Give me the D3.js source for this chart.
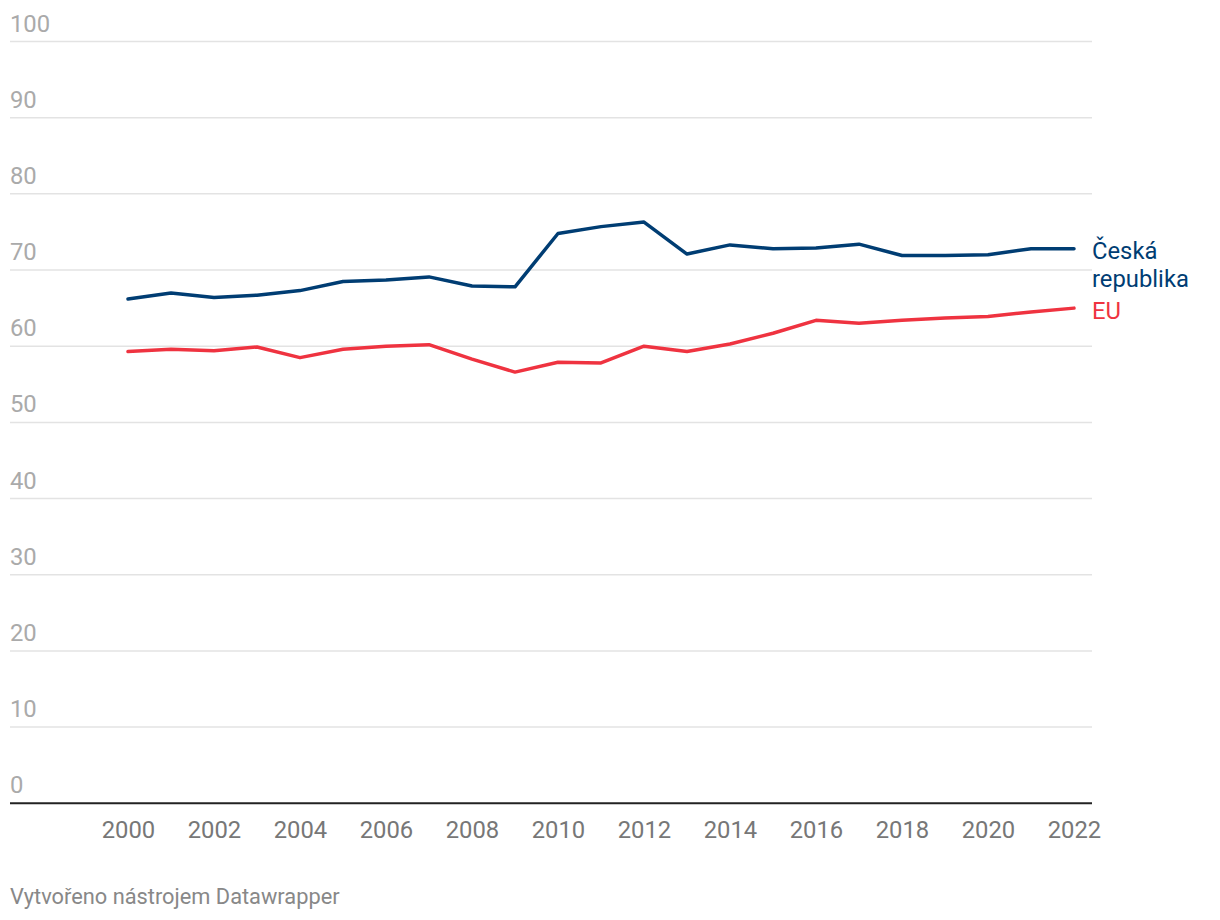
<!DOCTYPE html>
<html><head><meta charset="utf-8">
<script src="https://cdn.jsdelivr.net/npm/d3@7"></script>
<style>body{margin:0;background:#fff;font-family:Roboto,sans-serif}</style>
</head><body><svg id="c" width="1220" height="920"></svg>
<script>
const years = d3.range(2000, 2023);
const czValues = [66.2,67.0,66.4,66.7,67.3,68.5,68.7,69.1,67.9,67.8,74.8,75.7,76.3,72.1,73.3,72.8,72.9,73.4,71.9,71.9,72.0,72.8,72.8];
const euValues = [59.3,59.6,59.4,59.9,58.5,59.6,60.0,60.2,58.3,56.6,57.9,57.8,60.0,59.3,60.3,61.7,63.4,63.0,63.4,63.7,63.9,64.5,65.0];
const yTicks = [0,10,20,30,40,50,60,70,80,90,100];
const xTicks = [2000,2002,2004,2006,2008,2010,2012,2014,2016,2018,2020,2022];
const seriesNames = [["Česká","republika"],["EU"]];
const colors = ["#003d73","#ef3340"];

const svg = d3.select("#c");
const x = d3.scaleLinear().domain([2000,2022]).range([128,1074]);
const y = d3.scaleLinear().domain([0,100]).range([803.3,41.5]);

const grid = svg.append("g");
yTicks.forEach(t=>{
  if(t>0) grid.append("line").attr("x1",10).attr("x2",1092).attr("y1",y(t)).attr("y2",y(t))
    .attr("stroke","#e3e3e3").attr("stroke-width",1.5);
  grid.append("text").attr("x",10).attr("y",y(t)-10).text(t)
    .attr("fill","#aaaaaa").attr("font-size",23.8);
});
svg.append("line").attr("x1",10).attr("x2",1092).attr("y1",y(0)).attr("y2",y(0))
  .attr("stroke","#222").attr("stroke-width",2);
const xAxis = d3.axisBottom(x).tickValues(xTicks).tickFormat(d3.format("d")).tickSize(0).tickPadding(0);
const xg = svg.append("g").attr("transform",`translate(0,${y(0)})`).call(xAxis);
xg.select(".domain").remove();
xg.selectAll("text").attr("dy",null).attr("y",35).attr("font-size",23.8).attr("font-family","Roboto").attr("fill","#777");

const line = d3.line().x((d,i)=>x(years[i])).y(d=>y(d));
[czValues,euValues].forEach((vals,k)=>{
  svg.append("path").datum(vals).attr("d",line).attr("fill","none")
    .attr("stroke",colors[k]).attr("stroke-width",3.5).attr("stroke-linejoin","round").attr("stroke-linecap","round");
});
const labelY = [259, 319];
seriesNames.forEach((lines,k)=>{
  const t = svg.append("text").attr("x",1092).attr("y",labelY[k]).attr("fill",colors[k]).attr("font-size",23.8);
  lines.forEach((l,i)=>t.append("tspan").attr("x",1092).attr("dy",i?28:0).text(l));
});
svg.append("text").attr("x",10).attr("y",904).text("Vytvořeno nástrojem Datawrapper")
  .attr("fill","#888").attr("font-size",21.8);
</script></body></html>
